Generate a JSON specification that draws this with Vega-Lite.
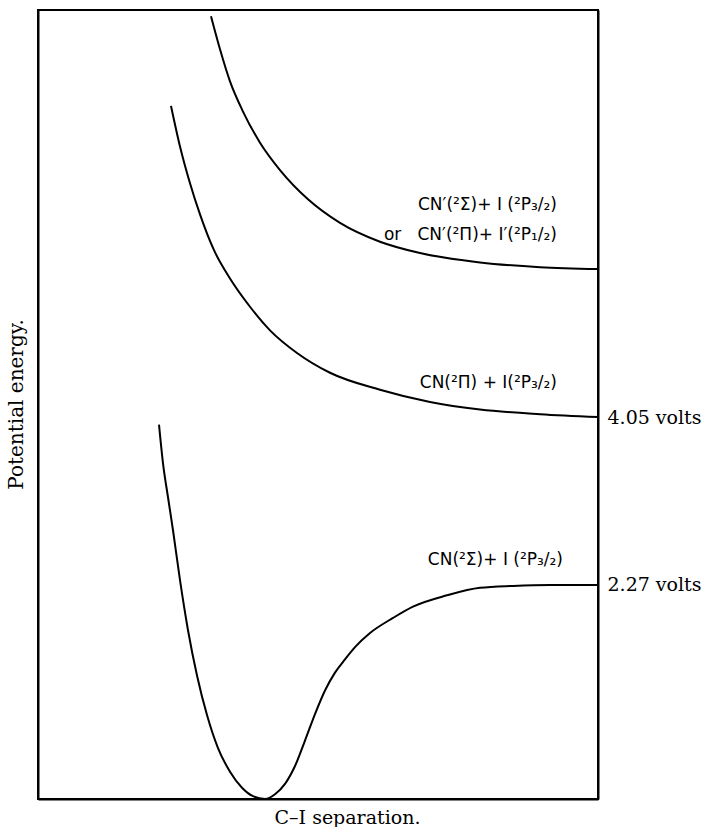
{
  "$schema": "https://vega.github.io/schema/vega-lite/v6.json",
  "width": 560,
  "height": 789,
  "autosize": {"type": "none"},
  "padding": {"left": 38, "right": 105, "top": 10, "bottom": 28},
  "background": "white",
  "config": {
    "view": {"stroke": "black", "strokeWidth": 2},
    "axis": {"grid": false, "domainColor": "black", "domainWidth": 2}
  },
  "datasets": {
    "curves": [
      {"curve": "upper", "x": 173, "E": 8.30},
      {"curve": "upper", "x": 182, "E": 7.95},
      {"curve": "upper", "x": 192, "E": 7.61},
      {"curve": "upper", "x": 205, "E": 7.29},
      {"curve": "upper", "x": 222, "E": 6.96},
      {"curve": "upper", "x": 242, "E": 6.67},
      {"curve": "upper", "x": 270, "E": 6.36},
      {"curve": "upper", "x": 302, "E": 6.11},
      {"curve": "upper", "x": 342, "E": 5.91},
      {"curve": "upper", "x": 382, "E": 5.79},
      {"curve": "upper", "x": 442, "E": 5.69},
      {"curve": "upper", "x": 502, "E": 5.64},
      {"curve": "upper", "x": 560, "E": 5.62},
      {"curve": "middle", "x": 133, "E": 7.35},
      {"curve": "middle", "x": 142, "E": 6.92},
      {"curve": "middle", "x": 152, "E": 6.53},
      {"curve": "middle", "x": 162, "E": 6.20},
      {"curve": "middle", "x": 176, "E": 5.82},
      {"curve": "middle", "x": 192, "E": 5.52},
      {"curve": "middle", "x": 212, "E": 5.22},
      {"curve": "middle", "x": 232, "E": 4.97},
      {"curve": "middle", "x": 259, "E": 4.73},
      {"curve": "middle", "x": 292, "E": 4.52},
      {"curve": "middle", "x": 342, "E": 4.34},
      {"curve": "middle", "x": 392, "E": 4.21},
      {"curve": "middle", "x": 442, "E": 4.13},
      {"curve": "middle", "x": 502, "E": 4.08},
      {"curve": "middle", "x": 560, "E": 4.05},
      {"curve": "lower", "x": 121, "E": 3.97},
      {"curve": "lower", "x": 125, "E": 3.56},
      {"curve": "lower", "x": 130, "E": 3.20},
      {"curve": "lower", "x": 135, "E": 2.85},
      {"curve": "lower", "x": 142, "E": 2.32},
      {"curve": "lower", "x": 150, "E": 1.79},
      {"curve": "lower", "x": 159, "E": 1.31},
      {"curve": "lower", "x": 169, "E": 0.89},
      {"curve": "lower", "x": 180, "E": 0.54},
      {"curve": "lower", "x": 192, "E": 0.29},
      {"curve": "lower", "x": 204, "E": 0.12},
      {"curve": "lower", "x": 215, "E": 0.03},
      {"curve": "lower", "x": 227, "E": 0.0},
      {"curve": "lower", "x": 237, "E": 0.05},
      {"curve": "lower", "x": 247, "E": 0.16},
      {"curve": "lower", "x": 257, "E": 0.35},
      {"curve": "lower", "x": 267, "E": 0.62},
      {"curve": "lower", "x": 277, "E": 0.90},
      {"curve": "lower", "x": 287, "E": 1.15},
      {"curve": "lower", "x": 297, "E": 1.34},
      {"curve": "lower", "x": 307, "E": 1.48},
      {"curve": "lower", "x": 317, "E": 1.61},
      {"curve": "lower", "x": 332, "E": 1.76},
      {"curve": "lower", "x": 355, "E": 1.92},
      {"curve": "lower", "x": 375, "E": 2.04},
      {"curve": "lower", "x": 409, "E": 2.16},
      {"curve": "lower", "x": 442, "E": 2.24},
      {"curve": "lower", "x": 475, "E": 2.26},
      {"curve": "lower", "x": 512, "E": 2.27},
      {"curve": "lower", "x": 560, "E": 2.27}
    ],
    "labels": [
      {"x": 519, "E": 6.30, "label": "CN′(²Σ)+ I (²P₃/₂)"},
      {"x": 519, "E": 5.98, "label": "or\u00a0\u00a0\u00a0CN′(²Π)+ I′(²P₁/₂)"},
      {"x": 519, "E": 4.41, "label": "CN(²Π) + I(²P₃/₂)"},
      {"x": 525, "E": 2.53, "label": "CN(²Σ)+ I (²P₃/₂)"}
    ]
  },
  "layer": [
    {
      "data": {"name": "curves"},
      "mark": {"type": "line", "color": "black", "strokeWidth": 2, "interpolate": "monotone"},
      "encoding": {
        "x": {
          "field": "x", "type": "quantitative",
          "scale": {"domain": [0, 560], "nice": false, "zero": false},
          "axis": {
            "orient": "bottom", "ticks": false, "labels": false,
            "title": "C–I separation.", "titleFont": "DejaVu Serif", "titleFontSize": 19,
            "titleFontWeight": "normal", "titleColor": "black",
            "titleX": 309, "titleY": 24, "titleAlign": "center", "titleBaseline": "alphabetic"
          }
        },
        "y": {
          "field": "E", "type": "quantitative",
          "scale": {"domain": [0, 8.367], "nice": false, "zero": false},
          "axis": {
            "orient": "left", "ticks": false, "labels": false,
            "title": "Potential energy.", "titleFont": "DejaVu Serif", "titleFontSize": 20,
            "titleFontWeight": "normal", "titleColor": "black",
            "titleX": -22, "titleY": 394, "titleAngle": -90, "titleAlign": "center", "titleBaseline": "middle"
          }
        },
        "detail": {"field": "curve", "type": "nominal"}
      }
    },
    {
      "data": {"name": "labels"},
      "mark": {"type": "text", "align": "right", "baseline": "middle", "font": "DejaVu Sans", "fontSize": 17, "color": "black"},
      "encoding": {
        "x": {
          "field": "x", "type": "quantitative",
          "scale": {"domain": [0, 560], "nice": false, "zero": false},
          "axis": {
            "orient": "bottom", "ticks": false, "labels": false,
            "title": "C–I separation.", "titleFont": "DejaVu Serif", "titleFontSize": 19,
            "titleFontWeight": "normal", "titleColor": "black",
            "titleX": 309, "titleY": 24, "titleAlign": "center", "titleBaseline": "alphabetic"
          }
        },
        "y": {
          "field": "E", "type": "quantitative",
          "scale": {"domain": [0, 8.367], "nice": false, "zero": false},
          "axis": {
            "orient": "right", "ticks": false, "values": [2.27, 4.05],
            "labelExpr": "datum.value + ' volts'", "labelFont": "DejaVu Serif", "labelFontSize": 19,
            "labelColor": "black", "labelPadding": 9, "labelFlush": false, "labelOverlap": false,
            "title": null
          }
        },
        "text": {"field": "label", "type": "nominal"}
      }
    }
  ],
  "resolve": {"scale": {"y": "independent"}}
}
